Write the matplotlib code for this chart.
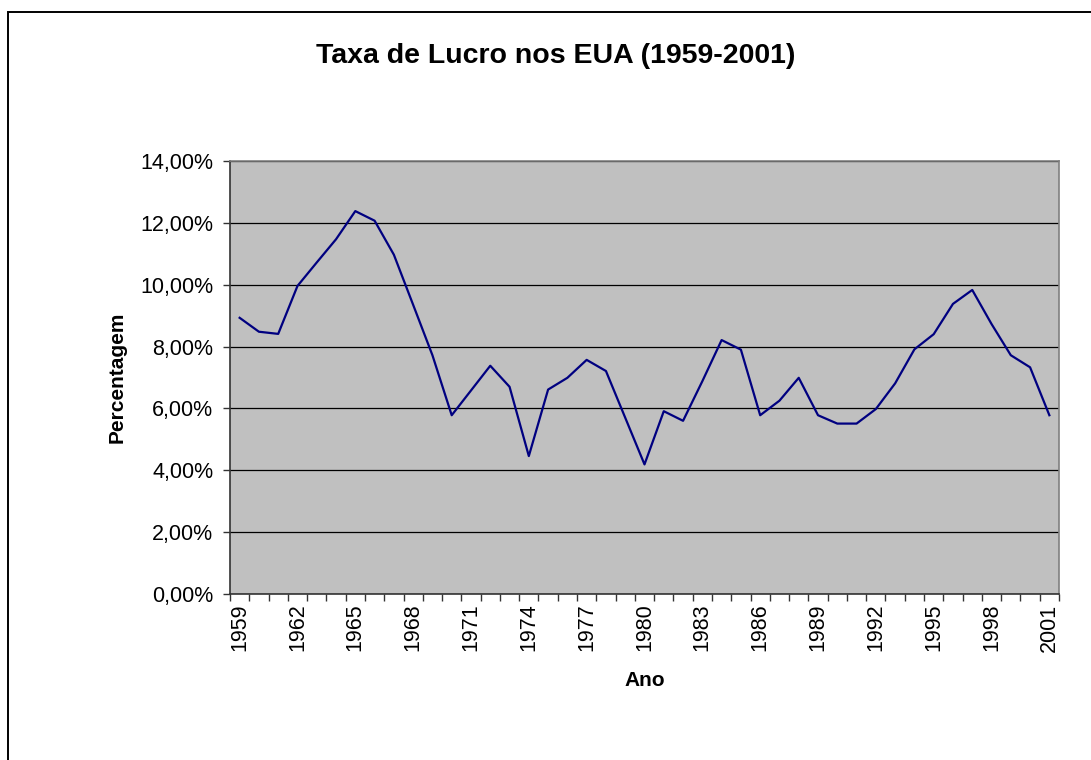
import matplotlib
matplotlib.use('Agg')
import matplotlib.pyplot as plt
from matplotlib.patches import Rectangle
from matplotlib.ticker import FuncFormatter, FixedLocator

# dados (taxa de lucro em %)
anos = list(range(1959, 2002))
taxa = [8.93, 8.48, 8.41, 9.96, 10.72, 11.47, 12.38, 12.07, 10.97, 9.35,
        7.72, 5.78, 6.58, 7.38, 6.70, 4.46, 6.61, 6.99, 7.57, 7.21,
        5.70, 4.19, 5.91, 5.60, 6.88, 8.21, 7.90, 5.78, 6.25, 6.99,
        5.78, 5.51, 5.51, 5.98, 6.81, 7.91, 8.40, 9.38, 9.83, 8.73,
        7.72, 7.33, 5.78]
rotulos_anos = [str(a) for a in anos[::3]]

plt.rcParams['font.family'] = ['Liberation Sans', 'DejaVu Sans']

fig = plt.figure(figsize=(10.91, 7.60), dpi=100)
ax = fig.add_axes([230/1091, 1 - 594/760, (1059-230)/1091, (594-161)/760])

x = list(range(len(anos)))
ax.plot(x, taxa, color='#000080', linewidth=1.6, zorder=3)

ax.set_facecolor('#C0C0C0')
ax.set_xlim(-0.5, len(anos) - 0.5)
ax.set_ylim(0, 14)
ax.set_yticks([0, 2, 4, 6, 8, 10, 12, 14])
ax.yaxis.set_major_formatter(FuncFormatter(lambda v, p: f'{v:.2f}'.replace('.', ',') + '%'))
ax.grid(axis='y', color='black', linewidth=0.9)
ax.set_axisbelow(True)

# rotulos a cada 3 anos, ticks entre as categorias
ax.set_xticks(x[::3])
ax.set_xticklabels(rotulos_anos, rotation=90)
ax.xaxis.set_minor_locator(FixedLocator([i - 0.5 for i in range(len(anos) + 1)]))
ax.tick_params(axis='x', which='major', length=0, pad=7, labelsize=15.5)
ax.tick_params(axis='x', which='minor', length=5, width=1, color='#333333')
ax.tick_params(axis='y', length=5, width=1, color='#333333', labelsize=15.5, pad=7)

for s in ['left', 'bottom']:
    ax.spines[s].set_color('#333333')
    ax.spines[s].set_linewidth(1.2)
for s in ['top', 'right']:
    ax.spines[s].set_color('#808080')
    ax.spines[s].set_linewidth(1.2)

ax.set_xlabel('Ano', fontsize=15, fontweight='bold', labelpad=14)
ax.set_ylabel('Percentagem', fontsize=15, fontweight='bold', labelpad=10)

fig.text(556/1091, 1 - 56/760, 'Taxa de Lucro nos EUA (1959-2001)', ha='center', va='center',
         fontsize=20.5, fontweight='bold')

# moldura do grafico
fig.patches.append(Rectangle((7.5/1091, -0.1), 1.2, 1 - 12/760 + 0.1, transform=fig.transFigure,
                             fill=False, edgecolor='black', linewidth=1.4))

fig.savefig('out.png', dpi=100)
